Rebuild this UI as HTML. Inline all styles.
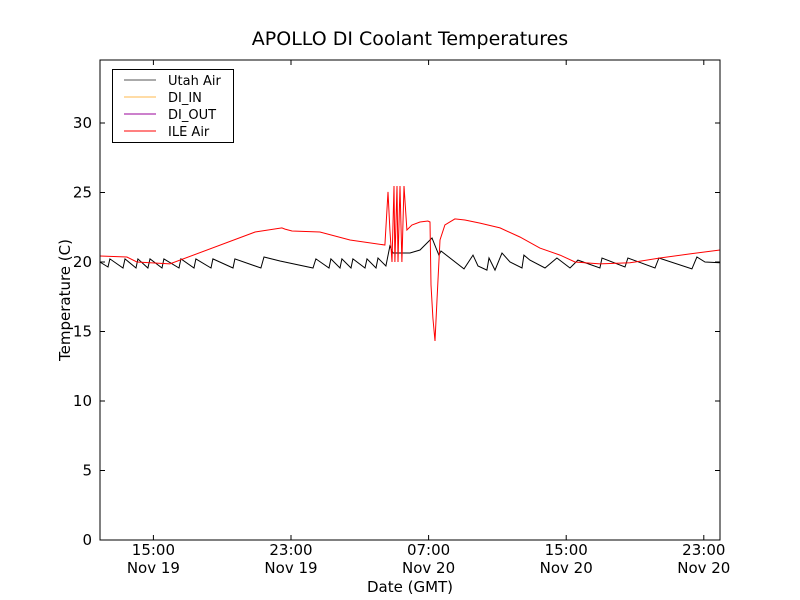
<!DOCTYPE html>
<html><head><meta charset="utf-8"><style>
body{margin:0;background:#fff;}
svg{display:block;font-family:"DejaVu Sans","Liberation Sans",sans-serif;}
</style></head><body>
<svg id="chart" width="800" height="600" viewBox="0 0 800 600">
<rect width="800" height="600" fill="#fff"/>
<text x="410" y="45" font-size="19" text-anchor="middle">APOLLO DI Coolant Temperatures</text>
<g id="plot"></g>
<text x="410" y="592" font-size="15" text-anchor="middle">Date (GMT)</text>
<text transform="translate(70,300) rotate(-90)" font-size="15" text-anchor="middle">Temperature (C)</text>
</svg>
<script>
// hours since 00:00 Nov 19
const utahHours=[11.89,12.36,12.47,13.23,13.35,13.99,14.10,14.68,14.80,15.50,15.61,16.49,16.60,17.36,17.47,18.35,18.46,19.63,19.74,21.25,21.43,22.36,24.28,24.45,25.21,25.32,25.85,25.96,26.49,26.60,27.30,27.42,27.94,28.06,28.52,28.75,28.93,29.92,30.50,31.20,31.43,31.60,31.72,33.06,33.58,33.87,34.39,34.51,34.86,35.27,35.73,36.43,36.54,36.89,37.77,38.46,39.22,39.68,40.96,41.08,42.42,42.59,44.16,44.39,46.31,46.60,47.07,47.94];
const utahTemps=[20.0,19.64,20.22,19.57,20.22,19.57,20.22,19.57,20.22,19.57,20.22,19.57,20.22,19.57,20.22,19.57,20.22,19.57,20.22,19.57,20.36,20.07,19.57,20.22,19.57,20.22,19.57,20.22,19.57,20.22,19.57,20.22,19.57,20.29,19.71,21.15,20.65,20.65,20.86,21.73,21.01,20.50,20.79,19.50,20.50,19.71,19.42,20.29,19.42,20.65,20.0,19.57,20.50,20.14,19.57,20.29,19.57,20.14,19.57,20.29,19.64,20.29,19.57,20.29,19.50,20.36,20.0,19.94];
const ileHours=[11.89,13.46,14.04,15.96,20.91,22.47,22.65,23.06,24.68,26.43,28.46,28.64,28.75,28.87,28.99,29.04,29.16,29.22,29.34,29.45,29.57,29.74,30.03,30.50,30.96,31.08,31.14,31.25,31.37,31.49,31.66,31.95,32.53,33.11,33.99,35.15,36.31,37.47,38.64,39.51,40.96,42.71,44.45,46.20,47.94];
const ileTemps=[20.43,20.36,20.0,19.86,22.16,22.45,22.37,22.23,22.16,21.58,21.22,25.04,22.3,20.0,25.47,20.0,25.47,20.0,25.47,20.0,25.47,22.3,22.66,22.88,22.95,22.88,18.35,15.97,14.32,17.27,21.58,22.66,23.1,23.02,22.8,22.45,21.8,21.0,20.5,20.0,19.86,19.94,20.29,20.58,20.86];
const yTicks=[0,5,10,15,20,25,30];
const xTickHours=[15,23,31,39,47];
const xTickTimes=["15:00","23:00","07:00","15:00","23:00"];
const xTickDates=["Nov 19","Nov 19","Nov 20","Nov 20","Nov 20"];
const legendNames=["Utah Air","DI_IN","DI_OUT","ILE Air"];
const legendColors=["#555","#ffb84d","#990099","#ff0000"];

const L=100,R=720,T=60,B=540;
const X=h=>153.4+(h-15)*17.2;
const Y=v=>540-v*13.9;
const NS="http://www.w3.org/2000/svg";
const g=document.getElementById('plot');
function mk(tag,attrs,parent){const e=document.createElementNS(NS,tag);for(const k in attrs)e.setAttribute(k,attrs[k]);(parent||g).appendChild(e);return e;}
const clip=mk('clipPath',{id:'pc'});mk('rect',{x:L,y:T,width:R-L,height:B-T},clip);
function series(hs,vs,color,name){
  const p=mk('polyline',{points:hs.map((h,i)=>X(h).toFixed(1)+','+Y(vs[i]).toFixed(1)).join(' '),fill:'none',stroke:color,'stroke-width':1,'clip-path':'url(#pc)'});
  
  
}
series(utahHours,utahTemps,'#000','utah-air-line');
series(ileHours,ileTemps,'#ff0000','ile-air-line');
const frame=mk('rect',{x:L,y:T,width:R-L,height:B-T,fill:'none',stroke:'#000','stroke-width':1});


yTicks.forEach(v=>{
  const y=Y(v);
  mk('line',{x1:L,x2:L+5,y1:y,y2:y,stroke:'#000'});
  mk('line',{x1:R,x2:R-5,y1:y,y2:y,stroke:'#000'});
  const t=mk('text',{x:L-8,y:y+5,'font-size':15,'text-anchor':'end'});t.textContent=v;
  
  
});
xTickHours.forEach((h,i)=>{
  const x=X(h);
  mk('line',{x1:x,x2:x,y1:B,y2:B-5,stroke:'#000'});
  mk('line',{x1:x,x2:x,y1:T,y2:T+5,stroke:'#000'});
  const t=mk('text',{x:x,y:555,'font-size':15,'text-anchor':'middle'});t.textContent=xTickTimes[i];
  
  
  const d=mk('text',{x:x,y:573,'font-size':15,'text-anchor':'middle'});d.textContent=xTickDates[i];
  
  
});
const lg=mk('g',{});


mk('rect',{x:112.5,y:69.5,width:121,height:73,fill:'#fff',stroke:'#000'},lg);
legendNames.forEach((n,i)=>{
  const y=80+i*17;
  mk('line',{x1:124,x2:156,y1:y,y2:y,stroke:legendColors[i]},lg);
  const t=mk('text',{x:168,y:y+5,'font-size':13},lg);t.textContent=n;
  
  
});
</script>
</body></html>
